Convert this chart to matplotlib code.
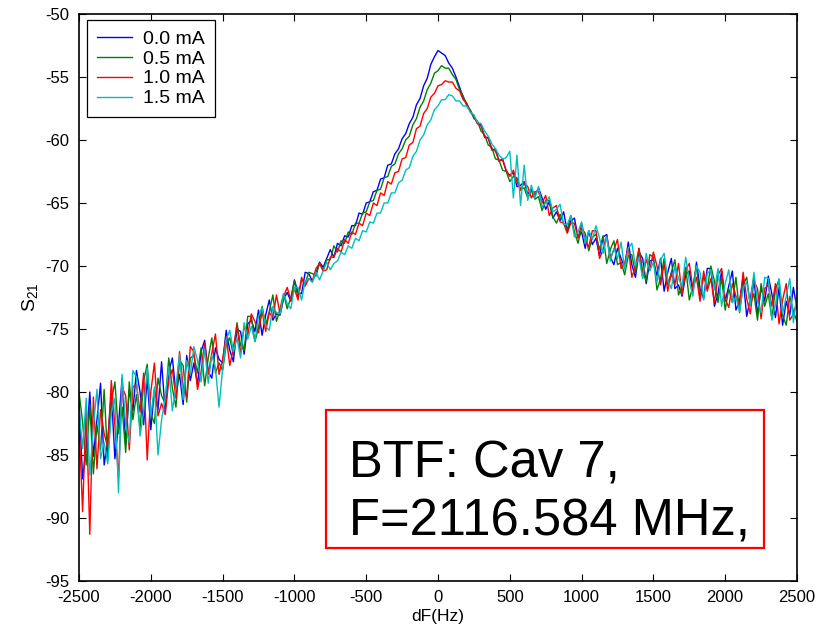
import numpy as np
import matplotlib
matplotlib.use("Agg")
import matplotlib.pyplot as plt
from matplotlib import font_manager
from matplotlib.patches import Rectangle

# fonts: narrow face for ticks/axis labels if we have it
names = {f.name for f in font_manager.fontManager.ttflist}
narrow = "Liberation Sans Narrow" if "Liberation Sans Narrow" in names else "Liberation Sans"
plt.rcParams["font.family"] = ["Liberation Sans", "DejaVu Sans"]
plt.rcParams["axes.unicode_minus"] = False
plt.rcParams["mathtext.fontset"] = "custom"
plt.rcParams["mathtext.rm"] = narrow
plt.rcParams["mathtext.it"] = narrow

# frequency offset grid, Hz (25 Hz steps)
dF = np.arange(-2500, 2501, 25)

labels = ["0.0 mA", "0.5 mA", "1.0 mA", "1.5 mA"]
colors = ["#0000ff", "#008000", "#ff0000", "#00bfbf"]

# S21 (dB), one list per beam current
s21_00 = [
    -80.7, -86.9, -84.4, -80.0, -85.1, -82.2, -79.3, -85.8,
    -83.8, -80.1, -85.3, -82.6, -78.9, -84.2, -79.8, -81.5,
    -78.3, -80.0, -82.6, -78.9, -83.0, -79.8, -81.4, -77.6,
    -81.6, -78.4, -77.3, -80.1, -78.6, -81.0, -77.1, -79.1,
    -77.7, -79.4, -76.8, -75.9, -78.4, -78.9, -76.5, -77.4,
    -77.7, -75.1, -76.7, -77.6, -75.0, -75.2, -77.0, -74.6,
    -74.3, -75.2, -73.5, -75.5, -73.9, -72.7, -74.3, -73.8,
    -73.9, -72.6, -72.1, -72.8, -71.1, -72.1, -72.2, -70.5,
    -70.6, -71.2, -70.6, -69.7, -70.1, -69.4, -68.7, -69.3,
    -68.2, -68.4, -67.6, -67.7, -66.8, -66.8, -65.8, -65.9,
    -65.0, -64.9, -64.1, -64.0, -63.1, -63.0, -62.0, -61.9,
    -61.1, -60.7, -59.9, -59.5, -58.7, -58.2, -57.2, -56.7,
    -55.7, -55.1, -54.0, -53.4, -52.9, -53.1, -53.3, -53.9,
    -54.3, -55.0, -55.8, -56.6, -57.1, -57.7, -58.1, -58.7,
    -58.8, -59.8, -59.8, -60.8, -60.7, -61.7, -61.5, -62.5,
    -62.8, -62.6, -63.7, -63.6, -63.3, -64.3, -63.9, -64.4,
    -63.8, -64.6, -65.5, -64.9, -66.2, -65.7, -66.4, -65.7,
    -67.3, -66.4, -66.2, -67.7, -67.3, -68.6, -67.2, -68.3,
    -67.8, -69.2, -67.7, -67.5, -69.3, -69.9, -68.6, -69.4,
    -70.1, -68.1, -69.9, -70.9, -68.9, -69.4, -71.4, -69.6,
    -69.5, -70.8, -69.4, -72.0, -70.5, -69.4, -71.8, -71.5,
    -72.4, -70.7, -70.4, -72.1, -69.7, -71.8, -72.6, -70.2,
    -70.2, -73.2, -72.2, -70.4, -72.8, -71.6, -70.4, -73.5,
    -72.8, -71.0, -74.0, -72.6, -70.9, -73.9, -71.7, -72.8,
    -70.8, -72.2, -74.1, -71.7, -74.7, -72.8, -73.9, -71.7,
    -73.4,
]
s21_05 = [
    -80.0, -82.4, -85.8, -81.0, -86.5, -82.6, -84.6, -79.8,
    -85.4, -80.7, -79.2, -83.3, -81.2, -84.8, -79.2, -82.2,
    -80.2, -83.0, -79.1, -77.8, -81.7, -82.5, -78.9, -80.3,
    -80.9, -77.3, -79.7, -81.2, -77.5, -77.9, -80.8, -77.3,
    -77.1, -78.5, -76.5, -79.5, -77.3, -75.7, -78.5, -77.7,
    -78.3, -76.3, -75.7, -77.1, -74.5, -76.3, -76.7, -74.0,
    -74.0, -76.0, -74.9, -73.2, -74.7, -73.6, -72.3, -74.4,
    -73.4, -72.2, -73.4, -72.5, -71.2, -72.5, -71.1, -71.4,
    -70.5, -70.6, -70.8, -69.8, -70.3, -69.5, -69.5, -68.4,
    -68.9, -68.0, -68.2, -67.3, -67.5, -66.6, -66.6, -65.8,
    -65.7, -64.9, -64.8, -64.0, -63.9, -63.0, -62.9, -62.1,
    -61.9, -61.1, -60.7, -60.0, -59.7, -58.8, -58.3, -57.4,
    -56.9, -56.0, -55.5, -54.7, -54.5, -54.1, -54.3, -54.3,
    -54.8, -55.2, -56.0, -56.5, -57.3, -57.6, -58.3, -58.5,
    -59.3, -59.6, -60.4, -60.6, -61.5, -61.6, -62.4, -62.5,
    -63.3, -62.9, -63.0, -63.9, -63.8, -64.6, -64.0, -64.7,
    -64.5, -65.6, -64.8, -64.8, -66.1, -66.6, -65.9, -66.6,
    -67.1, -66.0, -67.3, -68.2, -67.0, -67.4, -68.8, -67.7,
    -67.5, -68.7, -67.6, -69.8, -68.7, -68.0, -69.9, -69.7,
    -70.7, -69.2, -69.1, -70.6, -68.6, -70.4, -71.2, -69.1,
    -69.3, -71.9, -71.0, -69.4, -71.5, -70.5, -69.5, -72.3,
    -71.6, -70.1, -72.7, -71.6, -70.0, -72.6, -70.8, -71.8,
    -70.0, -71.2, -72.9, -70.9, -73.5, -71.8, -72.9, -70.9,
    -73.7, -71.5, -70.9, -73.1, -72.2, -74.3, -71.4, -73.2,
    -72.2, -74.2, -71.8, -71.1, -73.9, -74.7, -72.4, -73.6,
    -74.4,
]
s21_10 = [
    -82.5, -89.5, -81.2, -91.3, -80.4, -86.1, -81.4, -83.3,
    -84.4, -79.1, -82.7, -86.8, -79.6, -80.3, -84.6, -79.6,
    -79.4, -81.6, -78.5, -85.4, -80.0, -77.7, -81.9, -80.9,
    -81.8, -79.1, -78.2, -80.5, -76.8, -79.5, -80.4, -76.4,
    -76.8, -79.8, -78.4, -76.1, -78.6, -76.9, -75.4, -78.6,
    -77.4, -75.6, -77.9, -76.5, -74.7, -77.0, -74.8, -75.5,
    -73.8, -74.4, -75.3, -73.6, -75.2, -73.7, -74.1, -72.3,
    -73.8, -72.4, -71.7, -72.7, -71.8, -72.7, -70.9, -71.6,
    -71.0, -71.2, -70.2, -69.8, -70.4, -70.3, -69.3, -69.3,
    -68.6, -68.9, -67.9, -68.2, -67.3, -67.5, -66.6, -66.8,
    -65.8, -66.0, -65.0, -65.2, -64.2, -64.4, -63.3, -63.5,
    -62.6, -62.5, -61.5, -61.4, -60.4, -60.2, -59.1, -58.9,
    -57.9, -57.5, -56.6, -56.3, -55.7, -55.6, -55.3, -55.4,
    -55.4, -55.9, -56.1, -56.8, -57.1, -57.8, -58.1, -58.7,
    -58.9, -59.7, -59.9, -60.7, -60.9, -61.6, -61.6, -62.4,
    -62.9, -62.4, -63.3, -64.0, -63.4, -63.7, -64.6, -64.1,
    -64.1, -65.0, -64.4, -66.0, -65.4, -65.2, -66.5, -66.6,
    -67.4, -66.6, -66.6, -67.8, -66.6, -68.0, -68.5, -67.2,
    -67.2, -69.4, -68.7, -67.6, -69.4, -68.7, -67.9, -70.2,
    -69.8, -68.5, -70.9, -70.0, -68.6, -70.9, -69.5, -70.3,
    -68.9, -70.0, -71.5, -69.8, -72.0, -70.6, -71.5, -69.8,
    -72.3, -70.3, -69.8, -71.8, -70.9, -72.8, -70.4, -72.0,
    -71.0, -72.9, -70.7, -70.2, -72.6, -73.3, -71.4, -72.4,
    -73.1, -70.5, -72.6, -73.8, -71.2, -71.8, -74.2, -71.8,
    -71.5, -73.2, -71.4, -74.6, -72.7, -71.4, -74.3, -73.8,
    -72.8,
]
s21_15 = [
    -81.4, -84.5, -80.5, -86.6, -82.7, -79.8, -85.3, -84.0,
    -85.7, -81.7, -80.5, -88.0, -78.6, -82.6, -84.0, -78.3,
    -78.8, -83.5, -81.5, -78.1, -81.9, -79.6, -85.0, -82.2,
    -80.5, -78.0, -81.5, -79.6, -77.0, -80.6, -77.5, -78.6,
    -76.4, -77.5, -79.2, -76.6, -79.3, -77.1, -78.1, -81.2,
    -78.2, -75.9, -75.1, -76.8, -75.7, -77.3, -74.5, -75.8,
    -74.8, -76.0, -74.0, -73.3, -74.8, -75.1, -73.2, -73.7,
    -73.8, -72.2, -73.0, -73.4, -71.7, -71.7, -72.7, -71.2,
    -71.0, -71.3, -70.5, -71.1, -70.4, -69.7, -70.3, -69.8,
    -69.6, -68.9, -69.1, -68.4, -68.6, -67.8, -68.0, -67.2,
    -67.3, -66.5, -66.6, -65.8, -65.8, -65.0, -65.0, -64.2,
    -64.2, -63.4, -63.2, -62.4, -62.2, -61.3, -60.9, -60.0,
    -59.6, -58.8, -58.4, -57.6, -57.3, -56.8, -56.8, -56.4,
    -56.5, -56.9, -56.9, -57.3, -57.3, -57.8, -58.0, -58.6,
    -58.7, -59.3, -59.7, -60.3, -60.7, -61.2, -61.5, -61.4,
    -60.9, -64.6, -61.2, -65.2, -62.0, -64.8, -63.6, -64.6,
    -63.7, -65.3, -65.0, -64.5, -65.7, -65.5, -65.1, -66.7,
    -66.7, -66.0, -67.7, -67.3, -66.5, -68.2, -67.2, -67.9,
    -66.8, -67.8, -69.0, -67.7, -69.6, -68.6, -69.4, -68.1,
    -70.3, -68.6, -68.2, -70.0, -69.3, -71.0, -69.0, -70.4,
    -69.7, -71.3, -69.5, -69.0, -71.1, -71.8, -70.0, -71.0,
    -71.6, -69.3, -71.2, -72.4, -70.0, -70.5, -72.7, -70.6,
    -70.3, -71.9, -70.2, -73.2, -71.4, -70.3, -72.9, -72.5,
    -73.6, -71.7, -71.3, -73.1, -70.5, -72.8, -73.7, -70.9,
    -71.0, -74.3, -73.1, -71.0, -73.8, -72.4, -71.0, -74.5,
    -72.3,
]
series = [s21_00, s21_05, s21_10, s21_15]

xticks = np.arange(-2500, 2501, 500)
yticks = np.arange(-95, -49, 5)

fig = plt.figure(figsize=(8.18, 6.33), dpi=100)
ax = fig.add_axes([0.0966, 0.0822, 0.8777, 0.8957])

for y, c, lab in zip(series, colors, labels):
    ax.plot(dF, y, color=c, lw=1.0, label=lab)

ax.set_xlim(-2500, 2500)
ax.set_ylim(-95, -50)
ax.set_xticks(xticks)
ax.set_yticks(yticks)
ax.tick_params(direction="in", length=5, width=0.8, top=True, right=True,
               labelsize=12)
ax.tick_params(axis="x", pad=6.5)
ax.tick_params(axis="y", pad=7)
for lab in ax.get_xticklabels() + ax.get_yticklabels():
    lab.set_family(narrow)
for sp in ax.spines.values():
    sp.set_linewidth(1.2)

ax.set_xlabel("dF(Hz)", family=narrow, fontsize=12.5, labelpad=3)
ax.set_ylabel("S$_{21}$", family=narrow, fontsize=14, labelpad=4)

leg = ax.legend(loc="upper left", bbox_to_anchor=(0.011, 0.989), borderaxespad=0,
                fontsize=14, frameon=True, fancybox=False, framealpha=1,
                edgecolor="black", handlelength=1.8, handletextpad=0.6,
                labelspacing=0.12, borderpad=0.5)
leg.get_frame().set_linewidth(0.9)

# annotation box
ax.add_patch(Rectangle((0.344, 0.058), 0.61, 0.244, transform=ax.transAxes,
                       fill=False, edgecolor="red", lw=1.6))
ax.text(0.376, 0.1817, "BTF: Cav 7,", transform=ax.transAxes, fontsize=36.5,
        va="baseline", ha="left")
ax.text(0.376, 0.0794, "F=2116.584 MHz,", transform=ax.transAxes, fontsize=36.5,
        va="baseline", ha="left")

fig.savefig("out.png", dpi=100)
